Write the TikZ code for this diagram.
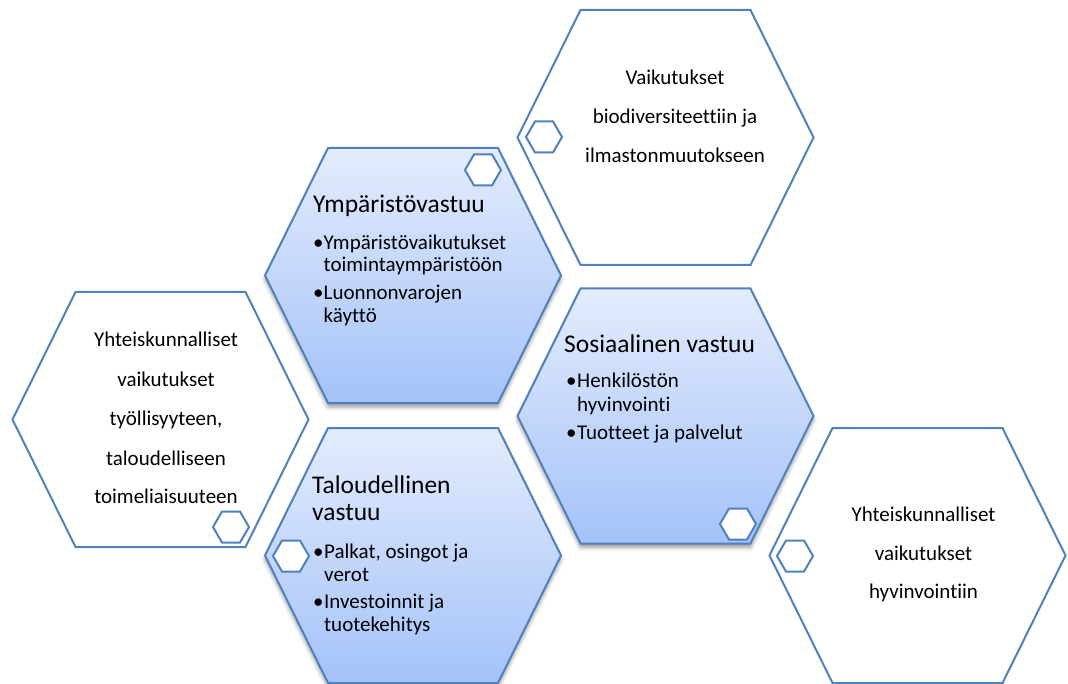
\documentclass[tikz,border=0pt]{standalone}
\usepackage{fontspec}
\setmainfont{Carlito}[Ligatures={NoCommon}]
\usetikzlibrary{shadows.blur}

\definecolor{hexline}{RGB}{79,129,189}
\definecolor{hextop}{RGB}{227,236,252}
\definecolor{hexbottom}{RGB}{164,194,249}

% large hexagon centred at (#1,#2): half width 148, half height 127.5, top edge half length 85
\newcommand{\bighex}[2]{({#1-148},#2) -- ({#1-85},{#2-127.5}) -- ({#1+85},{#2-127.5}) -- ({#1+148},#2) -- ({#1+85},{#2+127.5}) -- ({#1-85},{#2+127.5}) -- cycle}
% small decorative hexagon centred at (#1,#2)
\newcommand{\smallhex}[2]{({#1-18},#2) -- ({#1-9},{#2-15.5}) -- ({#1+9},{#2-15.5}) -- ({#1+18},#2) -- ({#1+9},{#2+15.5}) -- ({#1-9},{#2+15.5}) -- cycle}

\tikzset{
  plainhex/.style={draw=hexline, line width=2pt, fill=white, line join=miter},
  bluehex/.style={draw=hexline, line width=2pt, top color=hextop, bottom color=hexbottom,
    blur shadow={shadow xshift=0pt, shadow yshift=-4pt, shadow blur radius=4pt, shadow opacity=40}},
  minihex/.style={draw=hexline, line width=2pt, fill=white},
  txt/.style={font=\fontsize{21}{25}\selectfont, inner sep=0pt, anchor=base},
  head/.style={font=\fontsize{25.5}{30}\selectfont, inner sep=0pt, anchor=base west},
  item/.style={font=\fontsize{21}{25}\selectfont, inner sep=0pt, anchor=base west},
}

\begin{document}
\begin{tikzpicture}[x=1pt,y=-1pt]
\useasboundingbox (0,0) rectangle (1068,684);

% outer (impact) hexagons
\draw[plainhex] \bighex{665.5}{137.5};
\draw[plainhex] \bighex{160.5}{419.5};
\draw[plainhex] \bighex{917.5}{555.5};

% responsibility hexagons
\draw[bluehex] \bighex{413}{275.5};
\draw[bluehex] \bighex{665.5}{416};
\draw[bluehex] \bighex{413}{555.5};

% small hexagons
\draw[minihex] \smallhex{544}{137};
\draw[minihex] \smallhex{231}{527};
\draw[minihex] \smallhex{795}{556};
\draw[minihex] \smallhex{483}{170};
\draw[minihex] \smallhex{738}{524};
\draw[minihex] \smallhex{291}{556};

% biodiversity / climate
\node[txt] (v1) at (675,85) {Vaikutukset};
\node[txt] (v2) at (675,124) {biodiversiteettiin ja};
\node[txt] (v3) at (675,163) {ilmastonmuutokseen};

% societal: employment
\node[txt] (l1) at (166,347) {Yhteiskunnalliset};
\node[txt] (l2) at (166,386) {vaikutukset};
\node[txt] (l3) at (166,425.5) {työllisyyteen,};
\node[txt] (l4) at (166,465) {taloudelliseen};
\node[txt] (l5) at (166,503.5) {toimeliaisuuteen};

% societal: well-being
\node[txt] (b1) at (923.5,521.5) {Yhteiskunnalliset};
\node[txt] (b2) at (923.5,560.5) {vaikutukset};
\node[txt] (b3) at (923.5,598.5) {hyvinvointiin};

% environmental responsibility
\node[head] (yh) at (313,213) {Ympäristövastuu};
\node[item] (yb1) at (313,250) {•};
\node[item] (y1) at (323.5,250) {Ympäristövaikutukset};
\node[item] (y2) at (323.5,272) {toimintaympäristöön};
\node[item] (yb2) at (313,299.5) {•};
\node[item] (y3) at (323.5,299.5) {Luonnonvarojen};
\node[item] (y4) at (323.5,323) {käyttö};

% social responsibility
\node[head] (sh) at (564,352.5) {Sosiaalinen vastuu};
\node[item] (sb1) at (566,388) {•};
\node[item] (s1) at (577,388) {Henkilöstön};
\node[item] (s2) at (577,411.5) {hyvinvointi};
\node[item] (sb2) at (566,439) {•};
\node[item] (s3) at (577,439) {Tuotteet ja palvelut};

% economic responsibility
\node[head] (th1) at (312,493.5) {Taloudellinen};
\node[head] (th2) at (312,520) {vastuu};
\node[item] (tb1) at (313,558) {•};
\node[item] (t1) at (324,558) {Palkat, osingot ja};
\node[item] (t2) at (324,581.5) {verot};
\node[item] (tb2) at (313,608) {•};
\node[item] (t3) at (324,608) {Investoinnit ja};
\node[item] (t4) at (324,631.5) {tuotekehitys};
\end{tikzpicture}
\end{document}
